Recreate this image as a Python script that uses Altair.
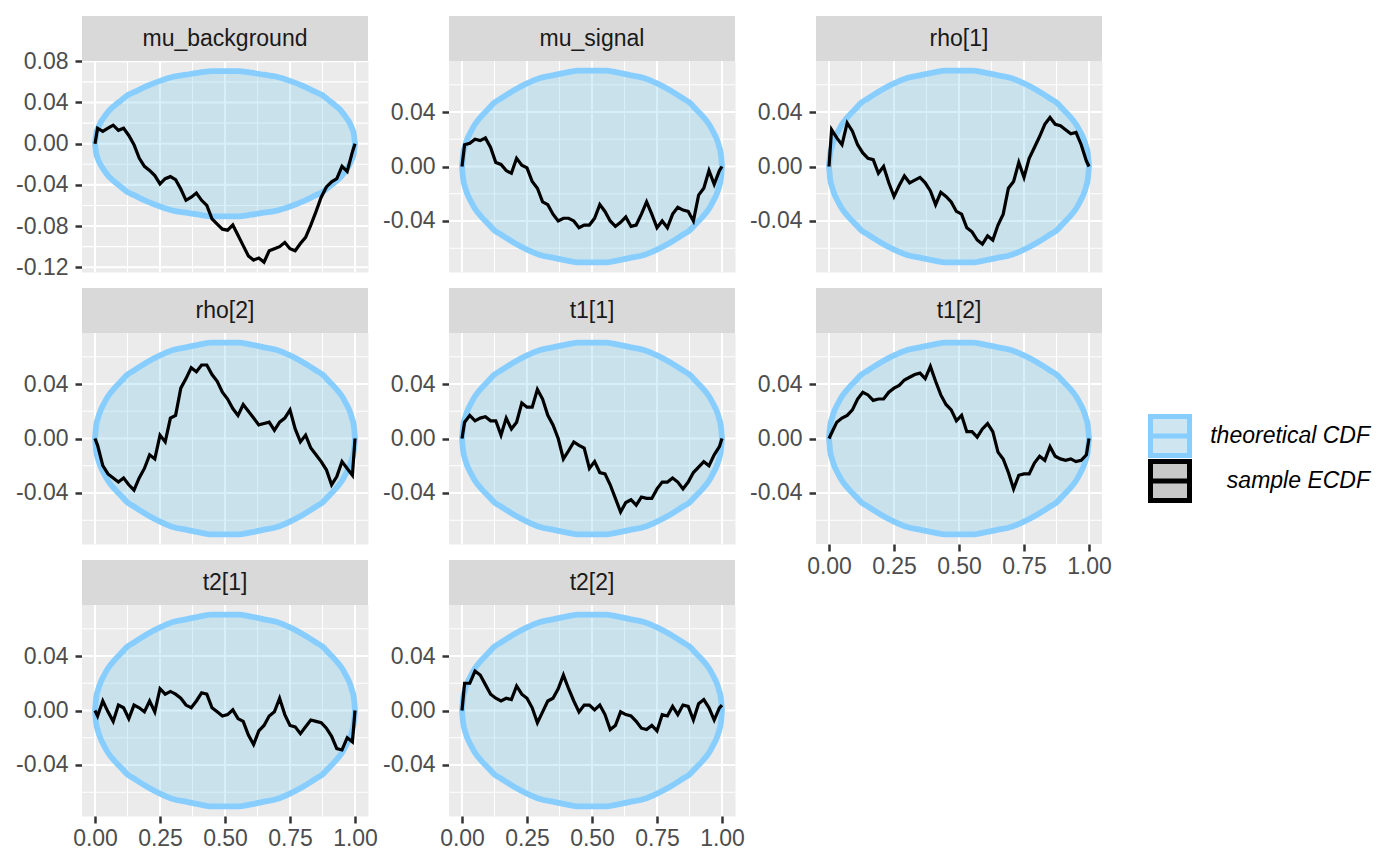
import altair as alt
import pandas as pd

FONT = "Liberation Sans"

PANELS = ["mu_background", "mu_signal", "rho[1]", "rho[2]", "t1[1]", "t1[2]", "t2[1]", "t2[2]"]

# sample positions (fractional rank) at which the ECDF differences were read
X_GRID = [0.0] + [round(0.01 + 0.02 * i, 2) for i in range(50)] + [1.0]

Y_MU_BACKGROUND = [0, 0.015, 0.012, 0.015, 0.018, 0.013, 0.015, 0.008, -0.001, -0.014, -0.022, -0.026, -0.031,
                   -0.039, -0.034, -0.032, -0.035, -0.044, -0.055, -0.052, -0.048, -0.055, -0.060, -0.073, -0.078,
                   -0.083, -0.084, -0.079, -0.089, -0.099, -0.109, -0.113, -0.111, -0.115, -0.104, -0.102, -0.100,
                   -0.096, -0.102, -0.104, -0.097, -0.091, -0.079, -0.066, -0.052, -0.042, -0.037, -0.034, -0.022,
                   -0.027, -0.008, 0.0]
Y_MU_SIGNAL = [0, 0.016, 0.017, 0.020, 0.019, 0.021, 0.014, 0.003, 0.0015, -0.003, -0.005, 0.006, 0.001, -0.001,
               -0.011, -0.016, -0.026, -0.028, -0.035, -0.040, -0.038, -0.038, -0.040, -0.045, -0.043, -0.043,
               -0.038, -0.028, -0.033, -0.040, -0.044, -0.041, -0.037, -0.044, -0.043, -0.035, -0.026, -0.035,
               -0.045, -0.040, -0.045, -0.035, -0.030, -0.032, -0.033, -0.040, -0.021, -0.016, -0.003, -0.013,
               -0.003, 0.0]
Y_RHO_1 = [0, 0.027, 0.021, 0.016, 0.032, 0.026, 0.016, 0.010, 0.006, 0.005, -0.005, 0.0, -0.012, -0.022, -0.014,
           -0.007, -0.012, -0.010, -0.008, -0.012, -0.018, -0.028, -0.019, -0.022, -0.026, -0.033, -0.035, -0.045,
           -0.048, -0.054, -0.057, -0.051, -0.054, -0.043, -0.035, -0.016, -0.011, 0.003, -0.008, 0.006, 0.014,
           0.022, 0.031, 0.036, 0.031, 0.030, 0.027, 0.024, 0.025, 0.016, 0.004, 0.0]
Y_RHO_2 = [0, -0.005, -0.020, -0.026, -0.029, -0.032, -0.029, -0.034, -0.038, -0.029, -0.022, -0.012, -0.015,
           0.0025, -0.0025, 0.015, 0.017, 0.037, 0.044, 0.052, 0.049, 0.054, 0.054, 0.047, 0.042, 0.034, 0.029,
           0.022, 0.017, 0.025, 0.020, 0.015, 0.010, 0.011, 0.012, 0.006, 0.012, 0.015, 0.021, 0.007, -0.0025,
           0.0025, -0.007, -0.012, -0.017, -0.023, -0.034, -0.028, -0.017, -0.022, -0.027, 0.0]
Y_T1_1 = [0, 0.012, 0.017, 0.013, 0.015, 0.016, 0.013, 0.013, 0.0025, 0.015, 0.007, 0.012, 0.026, 0.023, 0.023,
          0.036, 0.029, 0.017, 0.010, 0.0, -0.015, -0.009, -0.0025, -0.005, -0.007, -0.022, -0.017, -0.025, -0.026,
          -0.034, -0.044, -0.054, -0.047, -0.045, -0.049, -0.043, -0.044, -0.044, -0.037, -0.032, -0.032, -0.029,
          -0.032, -0.037, -0.032, -0.025, -0.021, -0.017, -0.020, -0.012, -0.006, 0.0]
Y_T1_2 = [0, 0.004, 0.012, 0.015, 0.017, 0.021, 0.029, 0.034, 0.032, 0.028, 0.029, 0.029, 0.034, 0.037, 0.039,
          0.043, 0.045, 0.047, 0.048, 0.044, 0.053, 0.042, 0.032, 0.025, 0.021, 0.013, 0.017, 0.005, 0.005, 0.001,
          0.007, 0.011, 0.005, -0.010, -0.015, -0.025, -0.037, -0.027, -0.026, -0.026, -0.018, -0.013, -0.016,
          -0.006, -0.013, -0.015, -0.016, -0.015, -0.017, -0.016, -0.012, 0.0]
Y_T2_1 = [0, -0.004, 0.007, -0.001, -0.008, 0.004, 0.002, -0.006, 0.004, 0.002, -0.001, 0.007, -0.001, 0.016,
          0.012, 0.014, 0.012, 0.009, 0.004, 0.002, 0.007, 0.013, 0.012, 0.002, -0.001, -0.004, -0.003, 0.0005,
          -0.006, -0.008, -0.018, -0.025, -0.015, -0.011, -0.004, -0.001, 0.009, -0.003, -0.011, -0.012, -0.017,
          -0.012, -0.007, -0.008, -0.009, -0.013, -0.019, -0.028, -0.029, -0.020, -0.023, 0.0]
Y_T2_2 = [0, 0.020, 0.020, 0.029, 0.026, 0.019, 0.012, 0.009, 0.007, 0.009, 0.008, 0.018, 0.012, 0.009, 0.002,
          -0.009, -0.001, 0.007, 0.009, 0.016, 0.026, 0.016, 0.007, -0.001, 0.004, 0.004, 0.0005, 0.004, -0.003,
          -0.014, -0.011, -0.001, -0.003, -0.004, -0.008, -0.013, -0.014, -0.011, -0.015, -0.003, -0.004, 0.003,
          -0.003, 0.004, 0.003, -0.007, 0.005, 0.008, 0.002, -0.007, 0.002, 0.004]

ECDF_DIFF = {
    "mu_background": Y_MU_BACKGROUND, "mu_signal": Y_MU_SIGNAL, "rho[1]": Y_RHO_1, "rho[2]": Y_RHO_2,
    "t1[1]": Y_T1_1, "t1[2]": Y_T1_2, "t2[1]": Y_T2_1, "t2[2]": Y_T2_2,
}

# theoretical CDF band (half-width, symmetric about 0)
BAND_X = [0, 0.005, 0.01, 0.02, 0.03, 0.05, 0.075, 0.1, 0.125, 0.15, 0.2, 0.25, 0.3, 0.35, 0.4, 0.45, 0.5,
          0.55, 0.6, 0.65, 0.7, 0.75, 0.8, 0.85, 0.875, 0.9, 0.925, 0.95, 0.97, 0.98, 0.99, 0.995, 1.0]
BAND_HALF = [0, 0.010, 0.014, 0.020, 0.024, 0.031, 0.037, 0.042, 0.047, 0.050, 0.056, 0.061, 0.065, 0.067,
             0.069, 0.0705, 0.0705, 0.0705, 0.069, 0.067, 0.065, 0.061, 0.056, 0.050, 0.047, 0.042, 0.037,
             0.031, 0.024, 0.020, 0.014, 0.010, 0]

X_MAJOR = [0, 0.25, 0.5, 0.75, 1.0]
X_MINOR = [0.125, 0.375, 0.625, 0.875]
Y_MAJOR_WIDE = [-0.12, -0.08, -0.04, 0, 0.04, 0.08]
Y_MINOR_WIDE = [-0.10, -0.06, -0.02, 0.02, 0.06]
Y_MAJOR = [-0.04, 0, 0.04]
Y_MINOR = [-0.06, -0.02, 0.02, 0.06]
Y_DOMAIN_WIDE = [-0.1246, 0.0803]
Y_DOMAIN = [-0.0775, 0.0775]

LEGEND_LABELS = ["theoretical CDF", "sample ECDF"]
LEGEND_FILLS = ["#CFE6F0", "#C8C8C8"]
LEGEND_STROKES = ["#87CEFF", "#000000"]

SHOW_X = {"t1[2]", "t2[1]", "t2[2]"}

W, H = 286, 211
STRIP_H = 45
MINUS_FIX = "replace(format(datum.value, '.2f'), '\u2212', '-')"


def panel(name):
    wide = name == "mu_background"
    y_domain = Y_DOMAIN_WIDE if wide else Y_DOMAIN
    y_major = Y_MAJOR_WIDE if wide else Y_MAJOR
    y_minor = Y_MINOR_WIDE if wide else Y_MINOR
    show_x = name in SHOW_X

    xs = alt.Scale(domain=[-0.05, 1.05], nice=False, zero=False)
    ys = alt.Scale(domain=y_domain, nice=False, zero=False)
    x_axis = alt.Axis(values=X_MAJOR, grid=False, labels=show_x, ticks=show_x, domain=False,
                      labelExpr=MINUS_FIX, title=None)
    y_axis = alt.Axis(values=y_major, grid=False, domain=False, labelExpr=MINUS_FIX, title=None)

    line_df = pd.DataFrame({"x": X_GRID, "y": ECDF_DIFF[name]})
    band_df = pd.DataFrame({"x": BAND_X, "lo": [-h for h in BAND_HALF], "hi": BAND_HALF})
    strip_df = pd.DataFrame({"name": [name]})

    background = alt.Chart(strip_df).mark_rect(fill="#EBEBEB").encode(
        x=alt.value(0), x2=alt.value(W), y=alt.value(0), y2=alt.value(H))
    vminor = alt.Chart(pd.DataFrame({"x": X_MINOR})).mark_rule(color="white", strokeWidth=1.1).encode(
        x=alt.X("x:Q", scale=xs, axis=x_axis))
    hminor = alt.Chart(pd.DataFrame({"y": y_minor})).mark_rule(color="white", strokeWidth=1.1).encode(
        y=alt.Y("y:Q", scale=ys, axis=y_axis))
    vmajor = alt.Chart(pd.DataFrame({"x": X_MAJOR})).mark_rule(color="white", strokeWidth=2.1).encode(
        x=alt.X("x:Q", scale=xs, axis=x_axis))
    hmajor = alt.Chart(pd.DataFrame({"y": y_major})).mark_rule(color="white", strokeWidth=2.1).encode(
        y=alt.Y("y:Q", scale=ys, axis=y_axis))
    band = alt.Chart(band_df).mark_area(
        fill="#87CEEB", fillOpacity=0.33, stroke="#87CEFF", strokeWidth=5.8, interpolate="monotone"
    ).encode(
        x=alt.X("x:Q", scale=xs, axis=x_axis),
        y=alt.Y("lo:Q", scale=ys, axis=y_axis),
        y2="hi:Q",
    )
    line = alt.Chart(line_df).mark_line(color="black", strokeWidth=3.2).encode(
        x=alt.X("x:Q", scale=xs, axis=x_axis),
        y=alt.Y("y:Q", scale=ys, axis=y_axis),
    )
    strip = alt.Chart(strip_df).mark_rect(fill="#D9D9D9").encode(
        x=alt.value(0), x2=alt.value(W), y=alt.value(-STRIP_H), y2=alt.value(0))
    strip_text = alt.Chart(strip_df).mark_text(
        font=FONT, fontSize=23, color="#1A1A1A", baseline="middle", align="center"
    ).encode(x=alt.value(W / 2), y=alt.value(-STRIP_H / 2), text="name:N")

    layers = [background, vminor, hminor, vmajor, hmajor, band, line, strip, strip_text]

    if name == "t1[2]":
        leg = alt.Legend(
            title=None, orient="none", legendX=1066, legendY=353, padding=0,
            symbolType="M-1,-1H1V1H-1Z M-1,0H1", symbolSize=1521, symbolStrokeWidth=5,
            symbolOpacity=1, labelFont=FONT, labelFontSize=23, labelFontStyle="italic",
            labelColor="black", labelAlign="right", labelOffset=178, labelLimit=400,
            rowPadding=1, clipHeight=44,
        )
        dummy = alt.Chart(pd.DataFrame({"k": LEGEND_LABELS})).transform_filter("false").mark_square(
            filled=True, opacity=1
        ).encode(
            fill=alt.Fill("k:N", scale=alt.Scale(domain=LEGEND_LABELS, range=LEGEND_FILLS), legend=leg),
            stroke=alt.Stroke("k:N", scale=alt.Scale(domain=LEGEND_LABELS, range=LEGEND_STROKES), legend=leg),
        )
        layers.append(dummy)

    return alt.layer(*layers).properties(width=W, height=H)


chart = alt.concat(
    *[panel(p) for p in PANELS], columns=3, spacing={"row": 61, "column": 81}, bounds="flush"
).properties(
    padding={"left": 7, "top": 7, "right": 5, "bottom": 5}
).configure_view(
    fill="#EBEBEB", stroke="transparent"
).configure_axis(
    labelFont=FONT, labelFontSize=23, labelColor="#4D4D4D", tickColor="#333333", tickSize=7,
    tickWidth=2.5, grid=False, domain=False
).configure_axisX(
    labelPadding=4
).configure_axisY(
    labelPadding=7
)

chart.save("out.html", embed_options={"renderer": "svg", "actions": False})
